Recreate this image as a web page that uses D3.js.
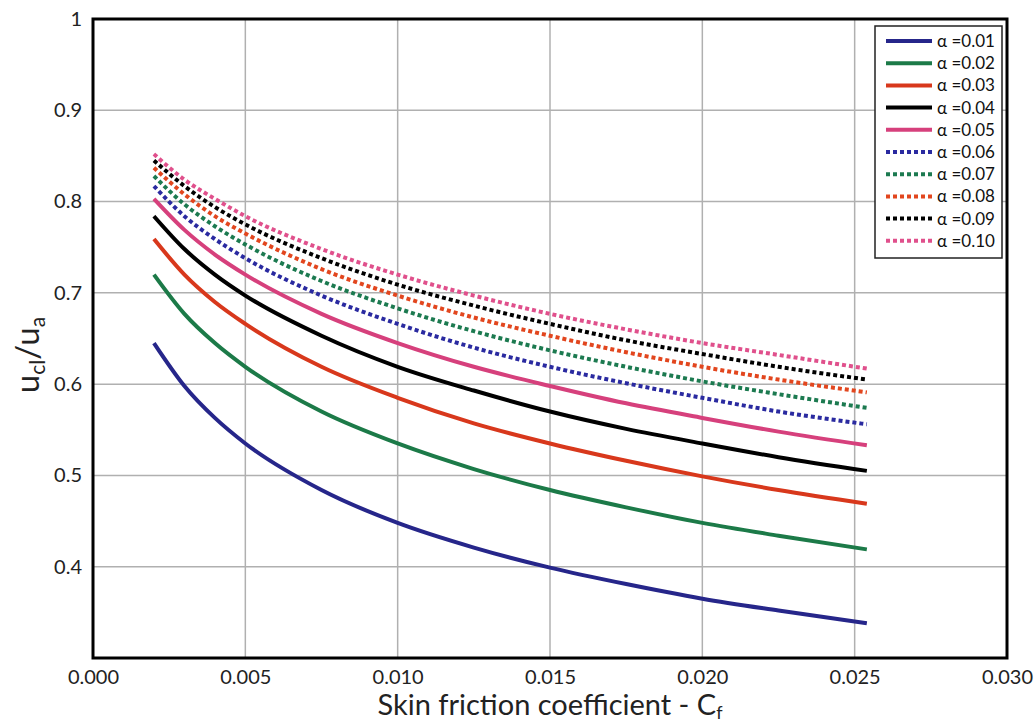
<!DOCTYPE html>
<html>
<head>
<meta charset="utf-8">
<script src="https://cdn.jsdelivr.net/npm/d3@7"></script>
<style>
  html, body { margin: 0; padding: 0; background: #fff; }
  svg { display: block; font-family: Lato, "Open Sans", sans-serif; }
</style>
</head>
<body>
<svg id="chart" width="1035" height="725"></svg>
<script>
// ---- data ----
const cf = [0.002, 0.003, 0.004, 0.005, 0.0075, 0.010, 0.0125, 0.015, 0.0175, 0.020, 0.0225, 0.0254];
const alphaLabels = ["α =0.01","α =0.02","α =0.03","α =0.04","α =0.05","α =0.06","α =0.07","α =0.08","α =0.09","α =0.10"];
const a001 = [0.645, 0.598, 0.563, 0.535, 0.484, 0.448, 0.421, 0.399, 0.381, 0.365, 0.352, 0.338];
const a002 = [0.720, 0.677, 0.645, 0.619, 0.570, 0.535, 0.507, 0.484, 0.465, 0.448, 0.434, 0.419];
const a003 = [0.759, 0.720, 0.690, 0.666, 0.619, 0.585, 0.557, 0.535, 0.516, 0.499, 0.484, 0.469];
const a004 = [0.784, 0.748, 0.720, 0.697, 0.653, 0.619, 0.593, 0.570, 0.551, 0.535, 0.520, 0.505];
const a005 = [0.803, 0.769, 0.742, 0.720, 0.677, 0.645, 0.619, 0.598, 0.579, 0.563, 0.548, 0.533];
const a006 = [0.817, 0.784, 0.759, 0.738, 0.697, 0.666, 0.640, 0.619, 0.601, 0.585, 0.570, 0.556];
const a007 = [0.828, 0.797, 0.773, 0.753, 0.713, 0.683, 0.658, 0.637, 0.619, 0.603, 0.589, 0.574];
const a008 = [0.837, 0.808, 0.784, 0.765, 0.726, 0.697, 0.673, 0.653, 0.635, 0.619, 0.605, 0.591];
const a009 = [0.845, 0.817, 0.794, 0.775, 0.738, 0.709, 0.686, 0.666, 0.648, 0.633, 0.619, 0.605];
const a010 = [0.852, 0.824, 0.803, 0.784, 0.748, 0.720, 0.697, 0.677, 0.660, 0.645, 0.632, 0.617];
const seriesValues = [a001, a002, a003, a004, a005, a006, a007, a008, a009, a010];
const xTicks = [0.000, 0.005, 0.010, 0.015, 0.020, 0.025, 0.030];
const yTicks = [0.4, 0.5, 0.6, 0.7, 0.8, 0.9, 1];

// ---- styles ----
const colors = ["#26268a", "#1c7a48", "#d8381c", "#000000", "#d6407c",
                "#2a2aa0", "#1c7a50", "#e2461e", "#000000", "#e0508c"];
const dashed = [false, false, false, false, false, true, true, true, true, true];

const svg = d3.select("#chart");
const m = { left: 93, top: 19, right: 1007, bottom: 658 };

const x = d3.scaleLinear().domain([0, 0.030]).range([m.left, m.right]);
const y = d3.scaleLinear().domain([0.3, 1]).range([m.bottom, m.top]);

// grid
const grid = svg.append("g");
grid.selectAll("line.v").data(xTicks.slice(1, -1)).join("line")
  .attr("x1", d => x(d)).attr("x2", d => x(d))
  .attr("y1", m.top).attr("y2", m.bottom)
  .attr("stroke", "#b0b0b0").attr("stroke-width", 1.5);
grid.selectAll("line.h").data(yTicks.slice(0, -1)).join("line")
  .attr("y1", d => y(d)).attr("y2", d => y(d))
  .attr("x1", m.left).attr("x2", m.right)
  .attr("stroke", "#b0b0b0").attr("stroke-width", 1.5);

// axes (labels only, via d3 axis)
const xAxis = svg.append("g").attr("transform", `translate(0,${m.bottom})`)
  .call(d3.axisBottom(x).tickValues(xTicks).tickFormat(d3.format(".3f")).tickSize(0).tickPadding(12));
xAxis.select(".domain").remove();
xAxis.selectAll("text").attr("font-size", 20).attr("fill", "#222").attr("font-family", "Lato, sans-serif");

const yAxis = svg.append("g").attr("transform", `translate(${m.left},0)`)
  .call(d3.axisLeft(y).tickValues(yTicks).tickFormat(d => d === 1 ? "1" : d3.format(".1f")(d)).tickSize(0).tickPadding(11));
yAxis.select(".domain").remove();
yAxis.selectAll("text").attr("font-size", 20).attr("fill", "#222").attr("font-family", "Lato, sans-serif");

// curves
const line = d3.line().x(d => x(d[0])).y(d => y(d[1])).curve(d3.curveMonotoneX);
seriesValues.forEach((vals, i) => {
  svg.append("path")
    .datum(cf.map((c, j) => [c, vals[j]]))
    .attr("d", line)
    .attr("fill", "none")
    .attr("stroke", colors[i])
    .attr("stroke-width", 4)
    .attr("stroke-dasharray", dashed[i] ? "4,3" : null);
});

// frame
svg.append("rect")
  .attr("x", m.left).attr("y", m.top)
  .attr("width", m.right - m.left).attr("height", m.bottom - m.top)
  .attr("fill", "none").attr("stroke", "#000").attr("stroke-width", 3);

// legend
const lg = svg.append("g");
lg.append("rect").attr("x", 875).attr("y", 26).attr("width", 127).attr("height", 232)
  .attr("fill", "#fff").attr("stroke", "#222").attr("stroke-width", 1.5);
alphaLabels.forEach((lab, i) => {
  const yy = 41 + i * 22.2;
  lg.append("line").attr("x1", 886).attr("x2", 932).attr("y1", yy).attr("y2", yy)
    .attr("stroke", colors[i]).attr("stroke-width", 4)
    .attr("stroke-dasharray", dashed[i] ? "4,3" : null);
  lg.append("text").attr("x", 937).attr("y", yy).attr("dy", "0.35em")
    .attr("font-size", 17).attr("fill", "#111").text(lab);
});

// axis titles
const xt = svg.append("text").attr("x", 550).attr("y", 715).attr("text-anchor", "middle")
  .attr("font-size", 29).attr("fill", "#222");
xt.append("tspan").text("Skin friction coefficient - C");
xt.append("tspan").attr("font-size", 18).attr("dy", 4).text("f");

const yt = svg.append("text").attr("transform", "translate(39,355) rotate(-90)")
  .attr("text-anchor", "middle").attr("font-size", 33).attr("fill", "#222");
yt.append("tspan").text("u");
yt.append("tspan").attr("font-size", 21).attr("dy", 6).text("cl");
yt.append("tspan").attr("dy", -6).text("/u");
yt.append("tspan").attr("font-size", 21).attr("dy", 6).text("a");
</script>
</body>
</html>
